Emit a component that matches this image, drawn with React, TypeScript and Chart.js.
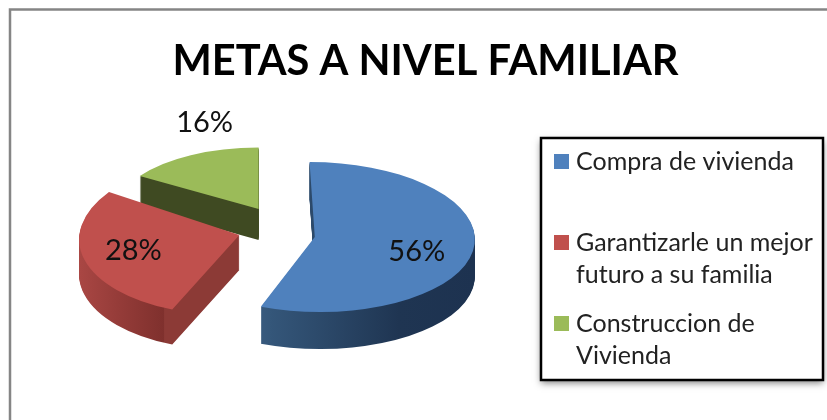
import React, { useEffect, useRef } from "react";
import { Chart, registerables } from "chart.js";

Chart.register(...registerables);

const categories: string[][] = [
  ["Compra de vivienda"],
  ["Garantizarle un mejor", "futuro a su familia"],
  ["Construccion de", "Vivienda"],
];
const values = [56, 28, 16];
const titleText = "METAS A NIVEL FAMILIAR";
const topColors = ["#4f81bd", "#c0504d", "#9bbb59"];

// 3-D projection settings
const FONT = "Lato";
const RADIUS = 160;
const SHIFT_X = -150;
const SHIFT_Y = -23;
const TILT = 0.469;
const DEPTH = [37, 35, 31];
const EXPLODE = [40, 38, 35];
const NUDGE_Y = [-2, -6, -12];
const SCALE_X = [1, 1, 0.88];
const SCALE_Y = [1, 1.07, 0.82];
const SKEW = [0.07, -0.11, 0];
const LABEL_OFFSET = [
  [102, 15],
  [-106, 16],
  [-54, -86],
];
const SIDE_STOPS = [
  [[0, "#5a7ea8"], [0.35, "#345679"], [0.75, "#1f3552"], [1, "#1d3250"]],
  [[0, "#aa4744"], [0.29, "#7f302d"], [0.291, "#8c3a36"], [1, "#8c3a36"]],
  [[0, "#3f4a22"], [1, "#3f4a22"]],
] as [number, string][][];

const legendBox = { l: 541, t: 138, r: 823, b: 380 };
const legendRowTops = [154, 235, 316];

const pie3d = {
  id: "pie3d",
  beforeDraw(chart: any) {
    const ctx = chart.ctx;
    ctx.save();
    ctx.fillStyle = "#ffffff";
    ctx.fillRect(0, 0, chart.width, chart.height);
    ctx.strokeStyle = "#858585";
    ctx.lineWidth = 2.5;
    ctx.beginPath();
    ctx.moveTo(10, chart.height);
    ctx.lineTo(10, 9.5);
    ctx.lineTo(chart.width, 9.5);
    ctx.stroke();
    ctx.restore();
  },
  beforeDatasetDraw(chart: any, args: any) {
    const ctx = chart.ctx;
    const meta = chart.getDatasetMeta(args.index);
    const apex = (i: number, e: any) => {
      const mid = (e.startAngle + e.endAngle) / 2;
      return [
        e.x + SHIFT_X + EXPLODE[i] * Math.cos(mid),
        e.y + SHIFT_Y + EXPLODE[i] * TILT * Math.sin(mid) + NUDGE_Y[i],
      ];
    };
    const place = (i: number, e: any, dy: number) => {
      const [ax, ay] = apex(i, e);
      ctx.translate(ax, ay + dy);
      ctx.transform(1, 0, SKEW[i], 1, 0, 0);
      ctx.scale(SCALE_X[i], TILT * SCALE_Y[i]);
      ctx.translate(-e.x, -e.y);
    };
    [2, 1, 0].forEach((i) => {
      const e = meta.data[i];
      const base = e.options;
      const g = ctx.createLinearGradient(e.x - RADIUS, 0, e.x + RADIUS, 0);
      SIDE_STOPS[i].forEach(([p, c]) => g.addColorStop(p, c));
      for (let d = DEPTH[i]; d >= 1; d--) {
        ctx.save();
        place(i, e, d);
        e.options = { ...base, backgroundColor: g, borderWidth: 0 };
        e.draw(ctx);
        ctx.restore();
      }
      ctx.save();
      place(i, e, 0);
      e.options = { ...base, borderWidth: 0 };
      e.draw(ctx);
      ctx.restore();
      e.options = base;
    });
    // Percentage labels
    ctx.save();
    ctx.fillStyle = "#111111";
    ctx.font = `29px ${FONT}`;
    ctx.textAlign = "center";
    ctx.textBaseline = "middle";
    const total = values.reduce((a, b) => a + b, 0);
    values.forEach((v, i) => {
      const [ax, ay] = apex(i, meta.data[i]);
      ctx.fillText(
        `${Math.round((v / total) * 100)}%`,
        ax + LABEL_OFFSET[i][0],
        ay + LABEL_OFFSET[i][1]
      );
    });
    ctx.restore();
    return false;
  },
  afterDraw(chart: any) {
    const ctx = chart.ctx;
    ctx.save();
    const { l, t, r, b } = legendBox;
    ctx.shadowColor = "rgba(0,0,0,0.5)";
    ctx.shadowBlur = 7;
    ctx.shadowOffsetY = 3;
    ctx.fillStyle = "#ffffff";
    ctx.fillRect(l, t, r - l, b - t);
    ctx.shadowColor = "transparent";
    ctx.strokeStyle = "#000000";
    ctx.lineWidth = 2.5;
    ctx.strokeRect(l, t, r - l, b - t);
    ctx.font = `25px ${FONT}`;
    ctx.textBaseline = "alphabetic";
    ctx.textAlign = "left";
    categories.forEach((lines, i) => {
      const y = legendRowTops[i];
      ctx.fillStyle = topColors[i];
      ctx.fillRect(l + 13, y, 15, 15);
      ctx.fillStyle = "#222222";
      lines.forEach((line, j) => ctx.fillText(line, l + 35, y + 16 + j * 31.5));
    });
    ctx.restore();
  },
};

export default function App() {
  const ref = useRef<HTMLCanvasElement>(null);
  useEffect(() => {
    document.body.style.margin = "0";
    const chart = new Chart(ref.current!, {
      type: "pie",
      data: {
        labels: categories.map((c) => c.join(" ")),
        datasets: [{ data: values, backgroundColor: topColors, borderWidth: 0 }],
      },
      options: {
        responsive: false,
        animation: false,
        radius: RADIUS,
        layout: { padding: { left: 24 } },
        plugins: {
          legend: { display: false },
          tooltip: { enabled: false },
          title: {
            display: true,
            text: titleText,
            color: "#000000",
            font: { family: FONT, size: 41.6, weight: "bold" },
            padding: { top: 37, bottom: 10 },
          },
        },
      } as any,
      plugins: [pie3d],
    });
    return () => chart.destroy();
  }, []);
  return (
    <canvas
      ref={ref}
      width={827}
      height={420}
      style={{ display: "block", filter: "blur(0.4px)" }}
    />
  );
}
